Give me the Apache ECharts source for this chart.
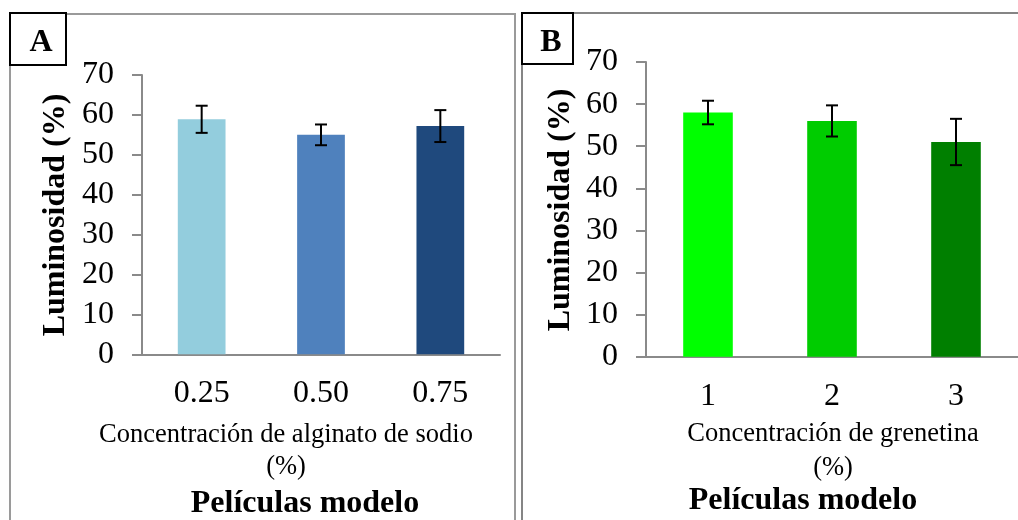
<!DOCTYPE html>
<html>
<head>
<meta charset="utf-8">
<title>Luminosidad de películas modelo</title>
<script src="https://cdn.jsdelivr.net/npm/echarts@6/dist/echarts.min.js"></script>
<style>
  html, body { margin: 0; padding: 0; background: #ffffff; }
  #chart { width: 1018px; height: 520px; }
</style>
</head>
<body>
<div id="chart"></div>
<script>
// Panel A: sodium alginate concentration
const categoriesA = ['0.25', '0.50', '0.75'];
const luminosityA = [58.9, 55.0, 57.2];
const errorA = [3.4, 2.6, 4.0];

// Panel B: gelatin concentration
const categoriesB = ['1', '2', '3'];
const luminosityB = [58.0, 56.0, 51.0];
const errorB = [2.8, 3.7, 5.5];

// Y axis ticks (shared)
const yTicks = { min: 0, max: 70, interval: 10 };

const colorsA = ['#93cddd', '#4f81bd', '#1f497d'];
const colorsB = ['#00ff00', '#00cc00', '#007f00'];

const SERIF = '"Liberation Serif", "Times New Roman", serif';
const AXIS_GRAY = '#8a8a8a';
const TICK_FONT = 32;

function barData(values, colors) {
  return values.map((v, i) => ({ value: v, itemStyle: { color: colors[i] } }));
}

function errorData(values, errors) {
  return values.map((v, i) => [i, v - errors[i], v + errors[i]]);
}

function renderErrorBar(params, api) {
  const idx = api.value(0);
  const lo = api.coord([idx, api.value(1)]);
  const hi = api.coord([idx, api.value(2)]);
  const hw = 6;
  const style = { stroke: '#000000', lineWidth: 2 };
  return {
    type: 'group',
    children: [
      { type: 'line', shape: { x1: lo[0], y1: lo[1], x2: hi[0], y2: hi[1] }, style },
      { type: 'line', shape: { x1: hi[0] - hw, y1: hi[1], x2: hi[0] + hw, y2: hi[1] }, style },
      { type: 'line', shape: { x1: lo[0] - hw, y1: lo[1], x2: lo[0] + hw, y2: lo[1] }, style }
    ]
  };
}

function xAxisFor(cats, gridIndex, margin) {
  return {
    type: 'category',
    gridIndex,
    data: cats,
    axisLine: { show: true, lineStyle: { color: AXIS_GRAY, width: 2 } },
    axisTick: { show: false },
    axisLabel: { color: '#000', fontFamily: SERIF, fontSize: TICK_FONT, margin },
    splitLine: { show: false }
  };
}

function yAxisFor(gridIndex) {
  return {
    type: 'value',
    gridIndex,
    min: yTicks.min,
    max: yTicks.max,
    interval: yTicks.interval,
    axisLine: { show: true, lineStyle: { color: AXIS_GRAY, width: 2 } },
    axisTick: { show: true, inside: false, length: 10, lineStyle: { color: AXIS_GRAY, width: 2 } },
    axisLabel: { color: '#000', fontFamily: SERIF, fontSize: TICK_FONT, margin: 28 },
    splitLine: { show: false }
  };
}

function text(x, y, str, size, bold, rotation) {
  return {
    type: 'text',
    x, y,
    rotation: rotation || 0,
    z: 10,
    style: {
      text: str,
      fill: '#000',
      font: (bold ? 'bold ' : '') + size + 'px ' + SERIF,
      textAlign: 'center',
      textVerticalAlign: 'middle'
    }
  };
}

const chart = echarts.init(document.getElementById('chart'), null, { renderer: 'canvas' });

chart.setOption({
  backgroundColor: '#ffffff',
  animation: false,
  grid: [
    { left: 142, top: 75, width: 358, height: 279.3 },
    { left: 646, top: 62, width: 375, height: 294.7 }
  ],
  xAxis: [xAxisFor(categoriesA, 0, 23), xAxisFor(categoriesB, 1, 24)],
  yAxis: [yAxisFor(0), yAxisFor(1)],
  series: [
    {
      type: 'bar', xAxisIndex: 0, yAxisIndex: 0,
      barWidth: '40%',
      data: barData(luminosityA, colorsA)
    },
    {
      type: 'custom', xAxisIndex: 0, yAxisIndex: 0, z: 5,
      renderItem: renderErrorBar,
      data: errorData(luminosityA, errorA)
    },
    {
      type: 'bar', xAxisIndex: 1, yAxisIndex: 1,
      barWidth: '40%',
      data: barData(luminosityB, colorsB)
    },
    {
      type: 'custom', xAxisIndex: 1, yAxisIndex: 1, z: 5,
      renderItem: renderErrorBar,
      data: errorData(luminosityB, errorB)
    }
  ],
  graphic: [
    // panel frames
    { type: 'rect', z: 1, shape: { x: 10, y: 14, width: 505, height: 620 },
      style: { fill: 'none', stroke: '#9a9a9a', lineWidth: 2 } },
    { type: 'rect', z: 1, shape: { x: 522, y: 13, width: 520, height: 620 },
      style: { fill: 'none', stroke: '#858585', lineWidth: 2 } },
    // panel letter boxes
    { type: 'rect', z: 8, shape: { x: 10, y: 13, width: 56, height: 52 },
      style: { fill: '#ffffff', stroke: '#000000', lineWidth: 2 } },
    { type: 'rect', z: 8, shape: { x: 522, y: 13, width: 51, height: 51 },
      style: { fill: '#ffffff', stroke: '#000000', lineWidth: 2 } },
    text(41, 43, 'A', 32, true),
    text(551, 43, 'B', 32, true),
    // y axis titles
    text(56, 215, 'Luminosidad (%)', 32, true, Math.PI / 2),
    text(561, 210, 'Luminosidad (%)', 32, true, Math.PI / 2),
    // x axis titles, panel A
    text(286, 435, 'Concentración de alginato de sodio', 26.5, false),
    text(286, 467, '(%)', 26.5, false),
    text(305, 504, 'Películas modelo', 32, true),
    // x axis titles, panel B
    text(833, 434, 'Concentración de grenetina', 26.5, false),
    text(833, 468, '(%)', 26.5, false),
    text(803, 501, 'Películas modelo', 32, true)
  ]
});
</script>
</body>
</html>
